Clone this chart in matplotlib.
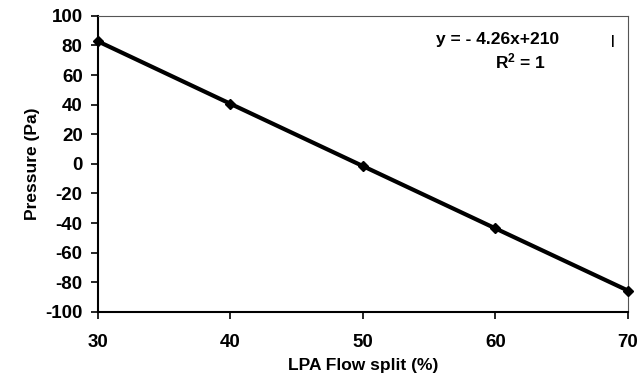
import matplotlib.pyplot as plt

# Data
flow_split = [30, 40, 50, 60, 70]
pressure = [82.8, 40.6, -1.5, -43.6, -85.6]
x_ticks = [30, 40, 50, 60, 70]
y_ticks = [-100, -80, -60, -40, -20, 0, 20, 40, 60, 80, 100]

plt.rcParams['font.family'] = ['Liberation Sans', 'DejaVu Sans']
plt.rcParams['axes.unicode_minus'] = False

fig = plt.figure(figsize=(6.4, 3.78), dpi=100)
ax = fig.add_axes([0.153, 0.175, 0.828, 0.783])

# Line with diamond markers
ax.plot(flow_split, pressure, color='black', linewidth=3,
        marker='D', markersize=5, markerfacecolor='black', markeredgecolor='black',
        clip_on=False, zorder=3)

ax.set_xlim(30, 70)
ax.set_ylim(-100, 100)
ax.set_xticks(x_ticks)
ax.set_yticks(y_ticks)

# Spines: heavy left/bottom, thin top/right
ax.spines['left'].set_linewidth(1.5)
ax.spines['bottom'].set_linewidth(1.5)
ax.spines['top'].set_linewidth(0.8)
ax.spines['right'].set_linewidth(0.8)
ax.spines['top'].set_color('#555555')
ax.spines['right'].set_color('#555555')

ax.tick_params(axis='both', direction='out', length=5, width=1.2, labelsize=13.5)
ax.tick_params(axis='x', pad=11)
ax.tick_params(axis='y', pad=6)
for lbl in ax.get_xticklabels() + ax.get_yticklabels():
    lbl.set_fontweight('bold')

ax.set_xlabel('LPA Flow split (%)', fontsize=12.5, fontweight='bold', labelpad=5)
ax.set_ylabel('Pressure (Pa)', fontsize=12.5, fontweight='bold', labelpad=4)

# Trendline equation
ax.text(0.755, 0.92, 'y = - 4.26x+210', transform=ax.transAxes,
        fontsize=12.5, fontweight='bold', ha='center', va='center')
ax.text(0.797, 0.845, '$\\mathregular{R^2}$ = 1', transform=ax.transAxes,
        fontsize=12.5, fontweight='bold', ha='center', va='center')
ax.text(0.972, 0.915, '|', transform=ax.transAxes,
        fontsize=9, fontweight='bold', ha='center', va='center')

fig.savefig('out.png', dpi=100)
